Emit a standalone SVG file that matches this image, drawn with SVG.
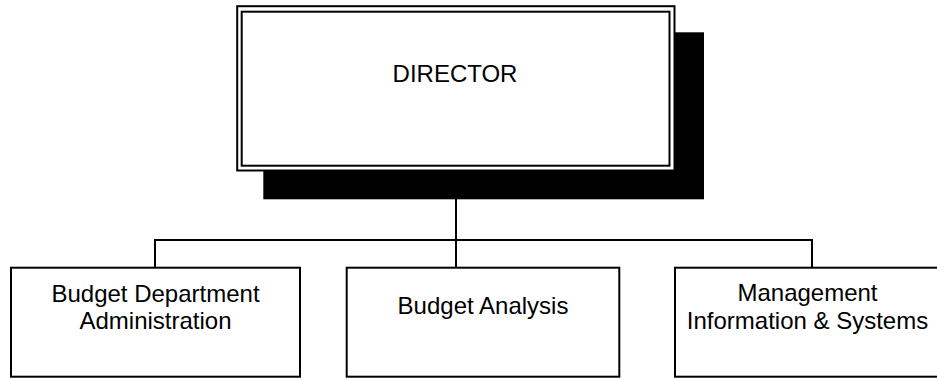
<svg xmlns="http://www.w3.org/2000/svg" width="937" height="380" viewBox="0 0 937 380">
<style>
.box{fill:#fff;stroke:#000;stroke-width:2}
.conn{fill:none;stroke:#000;stroke-width:2}
text{font-family:"Liberation Sans",Arial,sans-serif;font-size:24px;fill:#000;text-anchor:middle}
</style>
<rect width="937" height="380" fill="#fff"/>
<g id="connectors">
<line class="conn" x1="456" y1="199" x2="456" y2="240"/>
<polyline class="conn" points="155,268 155,240 812,240 812,268"/>
<line class="conn" x1="456" y1="240" x2="456" y2="268"/>
</g>
<g id="director">
<rect x="263.3" y="32.3" width="440.7" height="167" fill="#000"/>
<rect class="box" x="237.2" y="6.2" width="437.3" height="164.3"/>
<rect class="box" x="241.7" y="11.7" width="427.8" height="154"/>
<text x="455" y="82">DIRECTOR</text>
</g>
<g id="budget-dept-admin">
<rect class="box" x="11" y="267.7" width="289" height="109"/>
<text x="155.5" y="302">Budget Department</text>
<text x="155.5" y="329">Administration</text>
</g>
<g id="budget-analysis">
<rect class="box" x="346.7" y="267.7" width="272.6" height="109"/>
<text x="483" y="314">Budget Analysis</text>
</g>
<g id="mis">
<rect class="box" x="675" y="267.7" width="280" height="109"/>
<text x="807.5" y="301">Management</text>
<text x="807.5" y="329">Information &amp; Systems</text>
</g>
</svg>
